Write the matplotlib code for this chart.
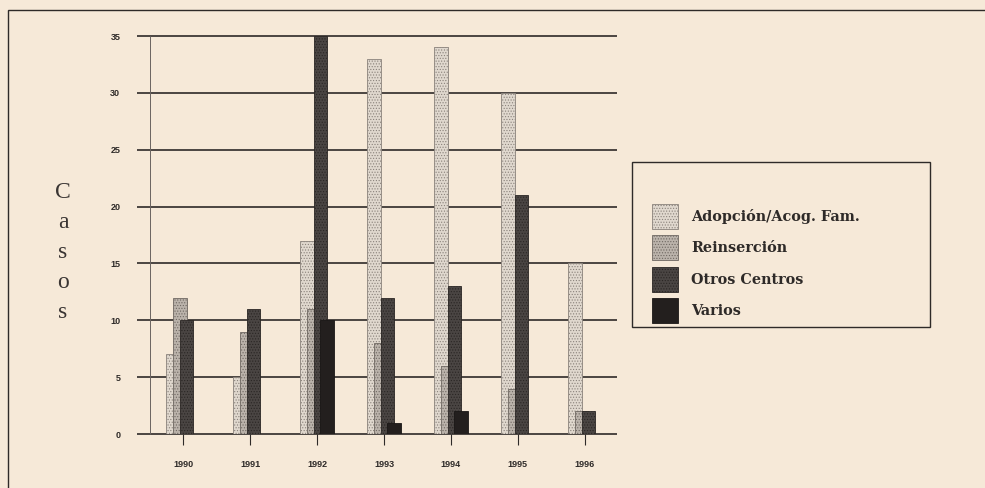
import numpy as np
import matplotlib
matplotlib.use("Agg")
import matplotlib.pyplot as plt
from matplotlib.patches import Rectangle

# --- data ---
years = ["1990", "1991", "1992", "1993", "1994", "1995", "1996"]
series_names = ["Adopción/Acog. Fam.", "Reinserción", "Otros Centros", "Varios"]
adopcion = [7, 5, 17, 33, 34, 30, 15]
reinsercion = [12, 9, 11, 8, 6, 4, 2]
otros_centros = [10, 11, 35, 12, 13, 21, 2]
varios = [0, 0, 10, 1, 2, 0, 0]
y_ticks = [0, 5, 10, 15, 20, 25, 30, 35]

# --- styles ---
bg = "#f6e9d8"
ink = "#2e2a28"
faces = ["#e0d8ce", "#bbb3ab", "#4a4543", "#231f1e"]
edges = ["#8a827b", "#6f6862", "#2a2624", "#1a1716"]
hatches = ["......", "......", "......", None]

plt.rcParams["hatch.linewidth"] = 0.5

fig = plt.figure(figsize=(9.85, 4.88), dpi=100)
fig.patch.set_facecolor(bg)

ax = fig.add_axes([137 / 985, 54 / 488, 480 / 985, 398 / 488])
ax.set_facecolor(bg)
for s in ax.spines.values():
    s.set_visible(False)

x = np.arange(len(years))
width = 0.2
offsets = [-0.15, -0.05, 0.05, 0.15]
values = [adopcion, reinsercion, otros_centros, varios]

# horizontal rules behind the bars
x_lo, x_hi = -0.69, 6.48
ax.hlines(y_ticks, x_lo, x_hi, colors=ink, lw=1.2, zorder=1, clip_on=False)
ax.vlines(-0.493, 0, 35, colors="#6a6360", lw=0.7, zorder=1, clip_on=False)

for vals, off, fc, ec, h in zip(values, offsets, faces, edges, hatches):
    ax.bar(x + off, vals, width, facecolor=fc, edgecolor=ec, hatch=h,
           lw=0.6, zorder=2)

ax.set_xlim(x_lo, x_hi)
ax.set_ylim(0, 35)
ax.set_xticks(x)
ax.set_xticklabels(years, fontsize=6.5, family="Liberation Sans",
                   weight="bold", color=ink)
ax.set_yticks(y_ticks)
ax.set_yticklabels([str(v) for v in y_ticks], fontsize=6.5,
                   family="Liberation Sans", weight="bold", color=ink)
ax.tick_params(axis="x", length=8, width=0.8, color=ink, pad=11)
ax.tick_params(axis="y", length=0, pad=12)

# vertical axis title, one letter per line
for i, ch in enumerate("Casos"):
    fig.text(63 / 985, 1 - (193 + i * 30) / 488, ch, fontsize=17,
             family="Liberation Serif", color="#3a3533",
             ha="center", va="center")

# outer frame
fig.patches.append(Rectangle((8 / 985, -0.1), 1.2, 478 / 488 + 0.1,
                             transform=fig.transFigure, fill=False,
                             edgecolor=ink, lw=1.0))

# legend box with swatches and labels
fig.patches.append(Rectangle((632 / 985, 161 / 488), 298 / 985, 165 / 488,
                             transform=fig.transFigure, fill=False,
                             edgecolor=ink, lw=1.0))
for i, (name, fc, ec, h) in enumerate(zip(series_names, faces, edges, hatches)):
    top = 204 + i * 31.3
    fig.patches.append(Rectangle((652 / 985, 1 - (top + 25) / 488),
                                 26 / 985, 25 / 488,
                                 transform=fig.transFigure, facecolor=fc,
                                 edgecolor=ec, hatch=h, lw=0.6))
    fig.text(691 / 985, 1 - (top + 13) / 488, name, fontsize=10.4,
             family="DejaVu Serif", weight="bold", color=ink,
             ha="left", va="center")

fig.savefig("out.png", dpi=100, facecolor=bg)
